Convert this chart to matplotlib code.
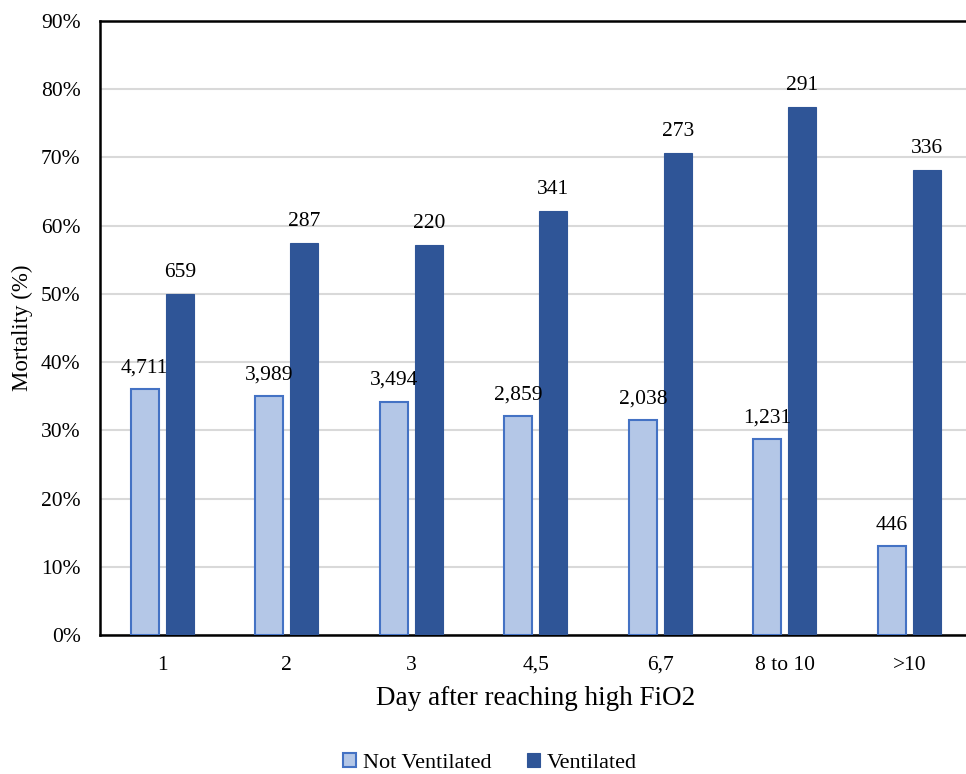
import matplotlib.pyplot as plt
import numpy as np

plt.rcParams['font.family'] = ['Liberation Serif', 'DejaVu Serif']

days = ['1', '2', '3', '4,5', '6,7', '8 to 10', '>10']
not_vent = [36.0, 35.0, 34.2, 32.1, 31.5, 28.7, 13.0]
vent = [50.0, 57.5, 57.2, 62.2, 70.7, 77.4, 68.2]
not_vent_n = ['4,711', '3,989', '3,494', '2,859', '2,038', '1,231', '446']
vent_n = ['659', '287', '220', '341', '273', '291', '336']

fig = plt.figure(figsize=(9.66, 7.74), dpi=100)
ax = fig.add_axes([0.1035, 0.1796, 0.9025, 0.7933])

x = np.arange(len(days))
w = 0.225
gap = 0.028
b1 = ax.bar(x - w / 2 - gap, not_vent, w, color='#b4c7e7', edgecolor='#4472c4',
            linewidth=1.5, label='Not Ventilated', zorder=3)
b2 = ax.bar(x + w / 2 + gap, vent, w, color='#2f5597', edgecolor='#2f5597',
            linewidth=0.8, label='Ventilated', zorder=3)

# sample sizes above each bar
for bars, labs in [(b1, not_vent_n), (b2, vent_n)]:
    for bar, lab in zip(bars, labs):
        ax.annotate(lab, (bar.get_x() + bar.get_width() / 2, bar.get_height()),
                    xytext=(0, 12), textcoords='offset points', ha='center',
                    va='baseline', fontsize=15.5)

ax.set_xlim(-0.5, len(days) - 0.5)
ax.set_ylim(0, 90)
ax.set_yticks(range(0, 91, 10))
ax.set_yticklabels([f'{v}%' for v in range(0, 91, 10)], fontsize=15.5)
ax.set_xticks(x)
ax.set_xticklabels(days, fontsize=15.5)
for t in ax.get_xticklabels():
    t.set_va('baseline')
ax.tick_params(length=0)
ax.tick_params(axis='y', pad=14)
ax.tick_params(axis='x', pad=25)
ax.yaxis.grid(True, color='#d9d9d9', linewidth=1.5, zorder=0)
ax.set_axisbelow(True)

for s in ['left', 'top', 'bottom']:
    ax.spines[s].set_color('black')
    ax.spines[s].set_linewidth(1.8)
ax.spines['right'].set_visible(False)

ax.set_ylabel('Mortality (%)', fontsize=16.5)
ax.yaxis.set_label_coords(-0.077, 0.5)
ax.set_xlabel('Day after reaching high FiO2', fontsize=19.5)
ax.xaxis.set_label_coords(0.5, -0.083)

fig.legend(handles=[b1, b2], loc='lower center', bbox_to_anchor=(0.507, -0.024),
           ncol=2, frameon=False, fontsize=16, handlelength=0.6,
           handleheight=0.6, handletextpad=0.3, columnspacing=1.6)

fig.savefig('out.png', dpi=100)
